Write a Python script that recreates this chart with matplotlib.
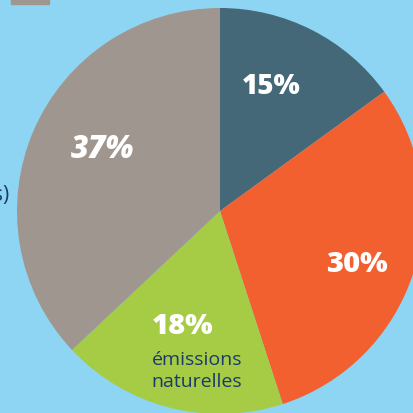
import matplotlib
matplotlib.use("Agg")
import matplotlib.pyplot as plt
from matplotlib.patches import Rectangle

# slice data, clockwise from 12 o'clock
shares = [15, 30, 18, 37]
labels = ["15%", "30%", "18%", "37%"]
colors = ["#456878", "#f26030", "#a6cb45", "#a09690"]
sublabel = "émissions\nnaturelles"

bg = "#8dd5f2"
navy = "#1b3a6b"

fig = plt.figure(figsize=(4.14, 4.14), dpi=100, facecolor=bg)
ax = fig.add_axes([0, 0, 1, 1])
ax.set_facecolor(bg)

cx, cy, r = 220, 202, 203
wedges, _ = ax.pie(shares, colors=colors, startangle=90, counterclock=False,
                   center=(cx, cy), radius=r, frame=True,
                   wedgeprops=dict(linewidth=0))
ax.set_xlim(0, 414)
ax.set_ylim(0, 414)
ax.set_aspect("equal")
ax.axis("off")

# percentage labels
num_font = dict(family="Open Sans", weight="heavy", color="white")
ax.text(271, 414 - 87, labels[0], fontsize=20, ha="center", va="center", **num_font)
ax.text(357, 414 - 264, labels[1], fontsize=21, ha="center", va="center", **num_font)
ax.text(183, 414 - 327, labels[2], fontsize=21, ha="center", va="center", **num_font)
ax.text(103, 414 - 150, labels[3], fontsize=22, ha="center", va="center",
        style="italic", **num_font)
ax.text(197, 414 - 371, sublabel, fontsize=14, ha="center", va="center",
        family="Open Sans", color=navy, linespacing=1.35)

# cropped legend patch and text from the original layout
ax.add_patch(Rectangle((11, 409), 38, 8, color=colors[3], clip_on=False))
ax.text(9, 414 - 195, "s)", fontsize=15, ha="right", va="center",
        family="Open Sans", color=navy)

fig.savefig("out.png", dpi=100, facecolor=bg)
